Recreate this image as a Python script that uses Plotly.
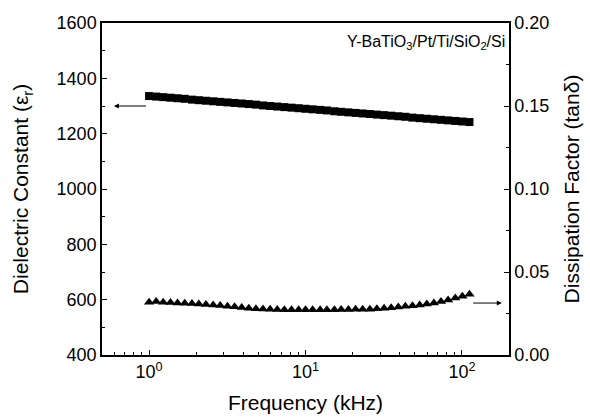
import plotly.graph_objects as go
import math

freq_khz = [1.00, 1.11, 1.23, 1.37, 1.52, 1.69, 1.88, 2.08, 2.31, 2.57, 2.85, 3.17, 3.52, 3.91, 4.34, 4.82,
            5.35, 5.94, 6.60, 7.33, 8.14, 9.04, 10.0, 11.1, 12.4, 13.7, 15.3, 16.9, 18.8, 20.9, 23.2, 25.8,
            28.6, 31.8, 35.3, 39.2, 43.5, 48.3, 53.7, 59.6, 66.2, 73.5, 81.6, 90.7, 100.7, 111.8]

dielectric = [1336, 1334, 1332, 1330, 1328, 1326, 1323, 1321, 1319, 1317, 1315, 1313, 1311, 1309, 1307, 1305,
              1302, 1300, 1298, 1296, 1294, 1292, 1290, 1288, 1286, 1284, 1281, 1279, 1277, 1275, 1273, 1271,
              1269, 1267, 1265, 1263, 1261, 1258, 1256, 1254, 1252, 1250, 1248, 1246, 1244, 1242]

tan_delta = [0.0318, 0.0322, 0.0318, 0.0316, 0.0314, 0.0312, 0.0310, 0.0307, 0.0304, 0.0301, 0.0298, 0.0294,
             0.0290, 0.0286, 0.0282, 0.0279, 0.0277, 0.0275, 0.0274, 0.0273, 0.0273, 0.0272, 0.0272, 0.0272,
             0.0273, 0.0273, 0.0273, 0.0274, 0.0274, 0.0275, 0.0275, 0.0276, 0.0278, 0.0281, 0.0285, 0.0289,
             0.0293, 0.0297, 0.0301, 0.0307, 0.0314, 0.0322, 0.0332, 0.0343, 0.0354, 0.0366]

x_tickvals = [1, 10, 100]
x_ticktext = ["10<sup>0</sup>", "10<sup>1</sup>", "10<sup>2</sup>"]
x_minor_ticks = [0.6, 0.7, 0.8, 0.9, 2, 3, 4, 5, 6, 7, 8, 9, 20, 30, 40, 50, 60, 70, 80, 90, 200]

FONT = "Liberation Sans, Arial, sans-serif"

fig = go.Figure()
fig.add_trace(go.Scatter(x=freq_khz, y=dielectric, mode="markers",
                         marker=dict(symbol="square", size=8, color="black"),
                         yaxis="y", showlegend=False))
fig.add_trace(go.Scatter(x=freq_khz, y=tan_delta, mode="markers",
                         marker=dict(symbol="triangle-up", size=9, color="black"),
                         yaxis="y2", showlegend=False))

axis_common = dict(showline=True, linecolor="black", linewidth=1.5, ticks="inside",
                   tickcolor="black", ticklen=5, tickwidth=1, showgrid=False, zeroline=False,
                   automargin=False,
                   tickfont=dict(family=FONT, size=18, color="black"))

fig.update_layout(
    width=590, height=420,
    margin=dict(l=102, r=81, t=23, b=65),
    paper_bgcolor="white", plot_bgcolor="white",
    font=dict(family=FONT, color="black"),
    xaxis=dict(type="log", range=[math.log10(0.5), math.log10(200)],
               tickvals=x_tickvals, ticktext=x_ticktext, mirror=True,
               minor=dict(ticks="inside", ticklen=3, tickcolor="black", showgrid=False,
                          tickvals=x_minor_ticks),
               title=dict(text="Frequency (kHz)", font=dict(family=FONT, size=21), standoff=14),
               **axis_common),
    yaxis=dict(range=[400, 1600], dtick=200,
               minor=dict(ticks="inside", ticklen=3, tickcolor="black", dtick=100),
               title=dict(text="Dielectric Constant (ε<sub>r</sub>)", font=dict(family=FONT, size=21), standoff=22),
               **axis_common),
    yaxis2=dict(range=[0, 0.2], dtick=0.05, tickformat=".2f", overlaying="y", side="right",
                minor=dict(ticks="inside", ticklen=3, tickcolor="black", dtick=0.025),
                title=dict(text="Dissipation Factor (tanδ)", font=dict(family=FONT, size=21), standoff=16),
                **axis_common),
)

fig.add_annotation(x=0.995, y=0.94, xref="paper", yref="paper", xanchor="right", yanchor="middle",
                   text="Y-BaTiO<sub>3</sub>/Pt/Ti/SiO<sub>2</sub>/Si", showarrow=False,
                   font=dict(family=FONT, size=16, color="black"))

fig.add_annotation(x=-0.225, y=1300, ax=-0.01, ay=1300, xref="x", yref="y", axref="x", ayref="y",
                   text="", showarrow=True, arrowhead=2, arrowsize=1, arrowwidth=1, arrowcolor="black")
fig.add_annotation(x=2.255, y=0.0313, ax=2.062, ay=0.0313, xref="x", yref="y2", axref="x", ayref="y2",
                   text="", showarrow=True, arrowhead=2, arrowsize=1, arrowwidth=1, arrowcolor="black")

fig.write_html("out.html")
